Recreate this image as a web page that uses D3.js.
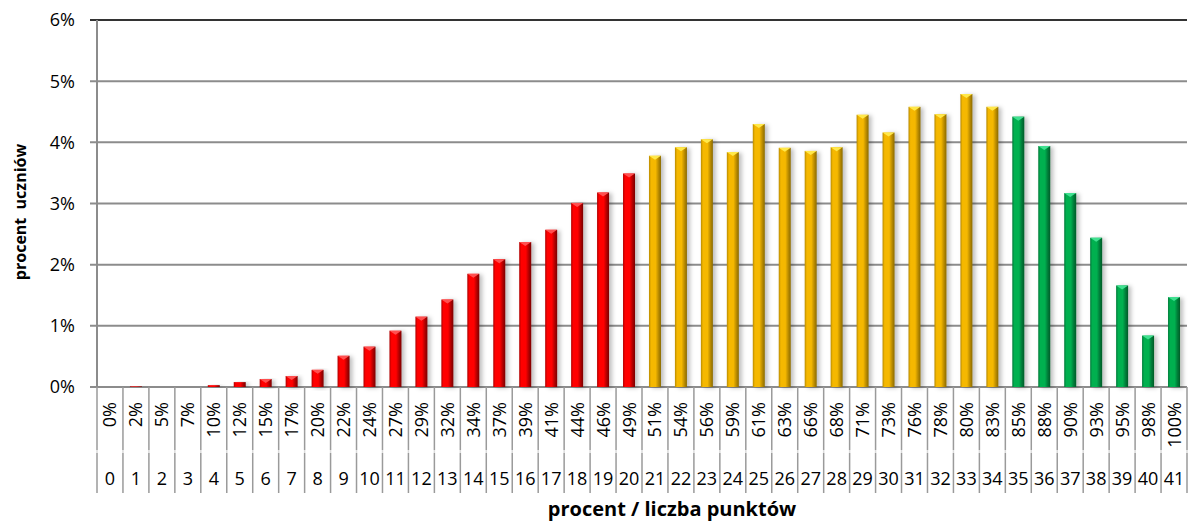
<!DOCTYPE html>
<html>
<head>
<meta charset="utf-8">
<script src="https://cdn.jsdelivr.net/npm/d3@7"></script>
<style>
  body { margin: 0; background: #fff; }
  text { font-family: "Open Sans", "Noto Sans", sans-serif; fill: #000; }
</style>
</head>
<body>
<div id="chart"></div>
<script>
// number of points (0..41) and matching percent of max score
var points = d3.range(0, 42);
var percentLabels = ["0%", "2%", "5%", "7%", "10%", "12%", "15%", "17%", "20%", "22%",
    "24%", "27%", "29%", "32%", "34%", "37%", "39%", "41%", "44%", "46%",
    "49%", "51%", "54%", "56%", "59%", "61%", "63%", "66%", "68%", "71%",
    "73%", "76%", "78%", "80%", "83%", "85%", "88%", "90%", "93%", "95%",
    "98%", "100%"];
// share of students (%) per point count
var shares = [0.00, 0.01, 0.00, 0.00, 0.03, 0.08, 0.13, 0.18, 0.28, 0.51,
    0.66, 0.92, 1.15, 1.43, 1.85, 2.09, 2.37, 2.57, 3.01, 3.18,
    3.49, 3.78, 3.92, 4.05, 3.84, 4.30, 3.91, 3.86, 3.92, 4.45,
    4.16, 4.58, 4.46, 4.79, 4.58, 4.42, 3.94, 3.17, 2.44, 1.66,
    0.84, 1.47];
var yTicks = [0, 1, 2, 3, 4, 5, 6];
var levelBreaks = [21, 35];
var levelNames = ["red", "gold", "green"];

var vWidth = 1188;
var vHeight = 522;
var margin = { left: 97, right: 1, top: 20, bottom: 135 };

var palette = {
    red:   { dark: "#7a0000", mid: "#ff0000", light: "#ff5050", edge: "#b00000" },
    gold:  { dark: "#8a6a00", mid: "#f5b800", light: "#ffe84a", edge: "#b88a00" },
    green: { dark: "#005c28", mid: "#00b050", light: "#40e090", edge: "#007a38" }
};

var svg = d3.select("#chart")
    .append("svg")
        .attr("width", vWidth)
        .attr("height", vHeight);

var defs = svg.append("defs");
levelNames.forEach(function (name) {
    var c = palette[name];
    var grad = defs.append("linearGradient")
        .attr("id", "grad-" + name)
        .attr("x1", "0%").attr("x2", "100%").attr("y1", "0%").attr("y2", "0%");
    grad.append("stop").attr("offset", "0%").attr("stop-color", c.edge);
    grad.append("stop").attr("offset", "18%").attr("stop-color", c.mid);
    grad.append("stop").attr("offset", "55%").attr("stop-color", c.mid);
    grad.append("stop").attr("offset", "80%").attr("stop-color", c.edge);
    grad.append("stop").attr("offset", "100%").attr("stop-color", c.dark);
});
var shadow = defs.append("filter").attr("id", "shadow")
    .attr("x", "-50%").attr("y", "-10%").attr("width", "250%").attr("height", "130%");
shadow.append("feDropShadow")
    .attr("dx", 3).attr("dy", 1).attr("stdDeviation", 2)
    .attr("flood-color", "#000").attr("flood-opacity", 0.25);

var x = d3.scaleBand()
    .domain(points)
    .range([margin.left, vWidth - margin.right])
    .padding(0);
var y = d3.scaleLinear()
    .domain([0, 6])
    .range([vHeight - margin.bottom, margin.top]);
var level = d3.scaleThreshold().domain(levelBreaks).range(levelNames);

var y0 = y(0);
var barW = 12;

// gridlines + y ticks
svg.append("g")
    .selectAll("line")
    .data(yTicks)
    .enter().append("line")
        .attr("x1", margin.left - 7)
        .attr("x2", vWidth - margin.right)
        .attr("y1", function (d) { return y(d); })
        .attr("y2", function (d) { return y(d); })
        .attr("stroke", function (d) { return d === 6 ? "#333" : "#8c8c8c"; })
        .attr("stroke-width", 2);

svg.append("g")
    .selectAll("text")
    .data(yTicks)
    .enter().append("text")
        .attr("x", 75)
        .attr("y", function (d) { return y(d); })
        .attr("dy", "0.36em")
        .attr("text-anchor", "end")
        .style("font-size", "18px")
        .text(function (d) { return d + "%"; });

// y axis line
svg.append("line")
    .attr("x1", margin.left).attr("x2", margin.left)
    .attr("y1", y(6)).attr("y2", y0)
    .attr("stroke", "#8c8c8c").attr("stroke-width", 2);

// bars
var bars = svg.append("g")
    .selectAll("g")
    .data(points)
    .enter().append("g")
        .attr("filter", "url(#shadow)");

bars.append("rect")
    .attr("x", function (d) { return x(d) + x.bandwidth() / 2 - barW / 2; })
    .attr("y", function (d) { return y(shares[d]); })
    .attr("width", barW)
    .attr("height", function (d) { return y0 - y(shares[d]); })
    .attr("fill", function (d) { return "url(#grad-" + level(d) + ")"; });

bars.filter(function (d) { return y0 - y(shares[d]) > 5; })
    .append("path")
        .attr("d", function (d) {
            var cx = x(d) + x.bandwidth() / 2;
            var top = y(shares[d]);
            return "M" + (cx - barW / 2) + "," + top +
                "L" + (cx + barW / 2) + "," + top +
                "L" + cx + "," + (top + 4) + "Z";
        })
        .attr("fill", function (d) { return palette[level(d)].light; });

// category separators (two-level axis)
var bounds = points.map(function (d) { return x(d); }).concat([vWidth - margin.right]);
var sep = svg.append("g");
sep.selectAll(".s1")
    .data(bounds)
    .enter().append("line")
        .attr("x1", function (d) { return d; }).attr("x2", function (d) { return d; })
        .attr("y1", y0).attr("y2", y0 + 63)
        .attr("stroke", "#9a9a9a").attr("stroke-width", 1.5);
sep.selectAll(".s2")
    .data(bounds)
    .enter().append("line")
        .attr("x1", function (d) { return d; }).attr("x2", function (d) { return d; })
        .attr("y1", y0 + 63).attr("y2", y0 + 66)
        .attr("stroke", "#dcdcdc").attr("stroke-width", 1.5);
sep.selectAll(".s3")
    .data(bounds)
    .enter().append("line")
        .attr("x1", function (d) { return d; }).attr("x2", function (d) { return d; })
        .attr("y1", y0 + 66).attr("y2", y0 + 106)
        .attr("stroke", "#9a9a9a").attr("stroke-width", 1.5);

// rotated percent labels
svg.append("g")
    .selectAll("text")
    .data(points)
    .enter().append("text")
        .attr("transform", function (d) {
            return "translate(" + (x(d) + x.bandwidth() / 2) + "," + (y0 + 15) + ") rotate(-90)";
        })
        .attr("dy", "0.36em")
        .attr("text-anchor", "end")
        .style("font-size", "18px")
        .text(function (d) { return percentLabels[d]; });

// point numbers
svg.append("g")
    .selectAll("text")
    .data(points)
    .enter().append("text")
        .attr("x", function (d) { return x(d) + x.bandwidth() / 2; })
        .attr("y", y0 + 98)
        .attr("text-anchor", "middle")
        .style("font-size", "18px")
        .text(function (d) { return d; });

// axis titles
svg.append("text")
    .attr("x", 672)
    .attr("y", 516)
    .attr("text-anchor", "middle")
    .style("font-size", "20px")
    .style("font-weight", "bold")
    .text("procent / liczba punktów");

svg.append("text")
    .attr("transform", "translate(20,212) rotate(-90)")
    .attr("dy", "0.36em")
    .attr("text-anchor", "middle")
    .style("font-size", "16px")
    .style("font-weight", "bold")
    .style("white-space", "pre")
    .attr("xml:space", "preserve")
    .text("procent  uczniów");
</script>
</body>
</html>
